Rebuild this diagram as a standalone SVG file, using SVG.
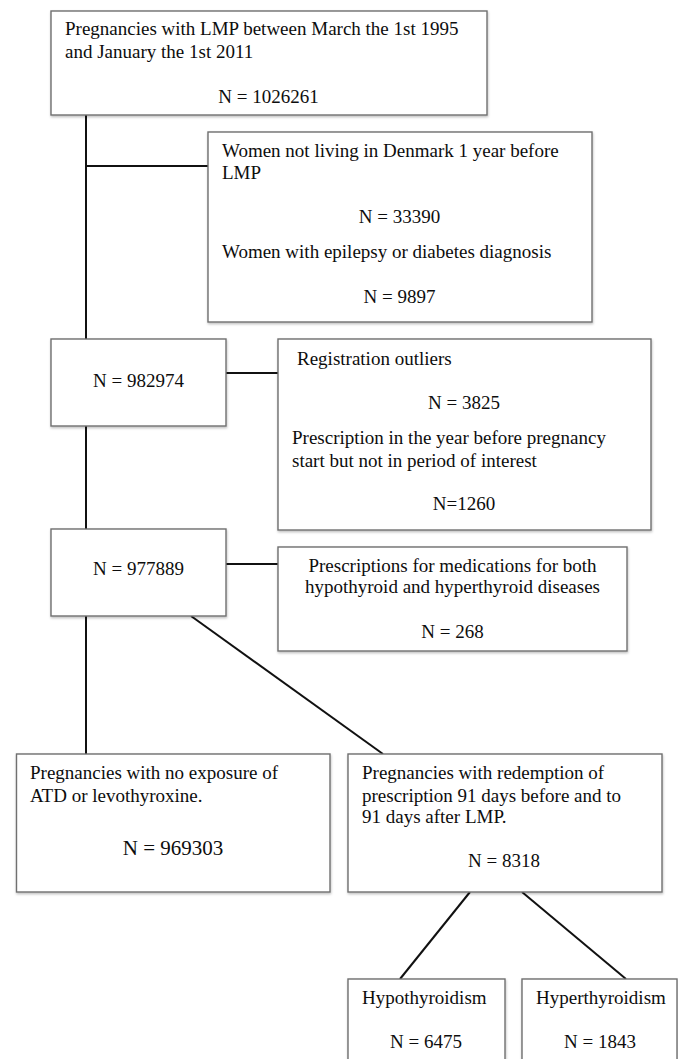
<svg xmlns="http://www.w3.org/2000/svg" width="678" height="1059" viewBox="0 0 678 1059">
<defs>
<filter id="sh" x="-5%" y="-5%" width="110%" height="115%">
<feDropShadow dx="0.5" dy="1.5" stdDeviation="1" flood-color="#000" flood-opacity="0.25"/>
</filter>
</defs>
<style>
.box{fill:#fff;stroke:#6f6f6f;stroke-width:1.4;filter:url(#sh)}
.t{font-family:"Liberation Serif","Times New Roman",serif;font-size:19px;fill:#0d0d0d}
.c{text-anchor:middle}
.conn{stroke:#111;stroke-width:2;fill:none}
</style>
<rect x="0" y="0" width="678" height="1059" fill="#fff"/>
<g id="connectors">
<line class="conn" x1="86" y1="115" x2="86" y2="339"/>
<line class="conn" x1="86" y1="166" x2="208" y2="166"/>
<line class="conn" x1="86" y1="426" x2="86" y2="529"/>
<line class="conn" x1="226" y1="373" x2="278" y2="373"/>
<line class="conn" x1="226" y1="564" x2="278" y2="564"/>
<line class="conn" x1="86" y1="616" x2="86" y2="754"/>
<line class="conn" x1="191" y1="616" x2="383" y2="754"/>
<line class="conn" x1="470" y1="892" x2="400" y2="979"/>
<line class="conn" x1="522" y1="892" x2="626" y2="979"/>
</g>
<g id="start">
<rect class="box" x="51" y="11" width="436" height="104"/>
<text class="t" x="65" y="35">Pregnancies with LMP between March the 1st 1995</text>
<text class="t" x="65" y="58">and January the 1st 2011</text>
<text class="t c" x="268.5" y="103">N = 1026261</text>
</g>
<g id="excl1">
<rect class="box" x="208" y="132" width="384" height="190"/>
<text class="t" x="222" y="157">Women not living in Denmark 1 year before</text>
<text class="t" x="222" y="179">LMP</text>
<text class="t c" x="399.5" y="223">N = 33390</text>
<text class="t" x="222" y="258">Women with epilepsy or diabetes diagnosis</text>
<text class="t c" x="399.5" y="303">N = 9897</text>
</g>
<g id="n982974">
<rect class="box" x="51" y="339" width="175" height="87"/>
<text class="t c" x="138.5" y="387">N = 982974</text>
</g>
<g id="excl2">
<rect class="box" x="278" y="339" width="373" height="191"/>
<text class="t" x="297" y="365">Registration outliers</text>
<text class="t c" x="464" y="409">N = 3825</text>
<text class="t" x="292" y="444">Prescription in the year before pregnancy</text>
<text class="t" x="292" y="467">start but not in period of interest</text>
<text class="t c" x="464" y="510">N=1260</text>
</g>
<g id="n977889">
<rect class="box" x="51" y="529" width="175" height="87"/>
<text class="t c" x="138.5" y="575">N = 977889</text>
</g>
<g id="excl3">
<rect class="box" x="278" y="547" width="349" height="104"/>
<text class="t c" x="452.5" y="572">Prescriptions for medications for both</text>
<text class="t c" x="452.5" y="593">hypothyroid and hyperthyroid diseases</text>
<text class="t c" x="452.5" y="638">N = 268</text>
</g>
<g id="unexposed">
<rect class="box" x="16.5" y="754" width="313.5" height="138"/>
<text class="t" x="30" y="779">Pregnancies with no exposure of</text>
<text class="t" x="30" y="802">ATD or levothyroxine.</text>
<text class="t c" x="173" y="855" style="font-size:21px">N = 969303</text>
</g>
<g id="exposed">
<rect class="box" x="348" y="754" width="314" height="138"/>
<text class="t" x="362" y="779">Pregnancies with redemption of</text>
<text class="t" x="362" y="802">prescription 91 days before and to</text>
<text class="t" x="362" y="823">91 days after LMP.</text>
<text class="t c" x="504" y="867">N = 8318</text>
</g>
<g id="hypo">
<rect class="box" x="348" y="979" width="157" height="100"/>
<text class="t" x="362" y="1004">Hypothyroidism</text>
<text class="t c" x="426" y="1048">N = 6475</text>
</g>
<g id="hyper">
<rect class="box" x="522" y="979" width="155" height="100"/>
<text class="t" x="536" y="1004">Hyperthyroidism</text>
<text class="t c" x="600" y="1048">N = 1843</text>
</g>
</svg>
